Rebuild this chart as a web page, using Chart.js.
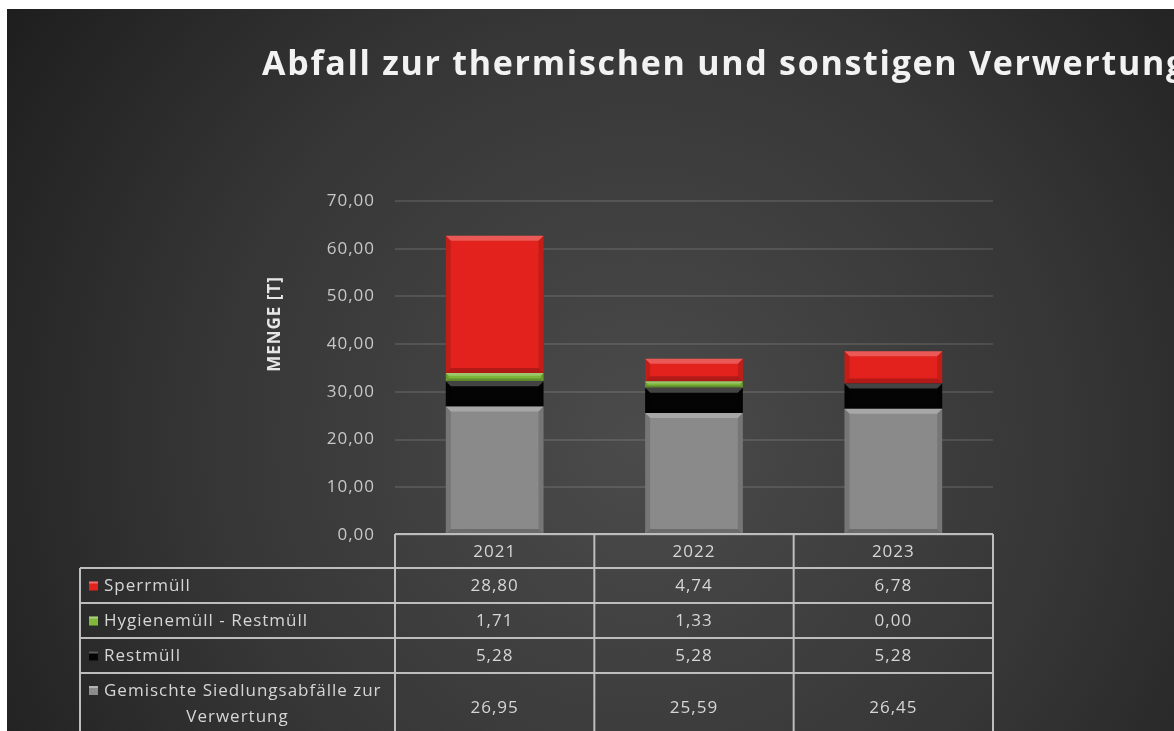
<!DOCTYPE html>
<html>
<head>
<meta charset="utf-8">
<script src="https://cdn.jsdelivr.net/npm/chart.js@4.4.1/dist/chart.umd.min.js"></script>
<style>
  html, body { margin: 0; padding: 0; background: #fff; }
  canvas { display: block; }
</style>
</head>
<body>
<canvas id="grafico" width="1174" height="731"></canvas>
<script>
// Daten (Tonnen)
const jahre = ['2021', '2022', '2023'];
const sperrmuell = [28.80, 4.74, 6.78];
const hygienemuell = [1.71, 1.33, 0.00];
const restmuell = [5.28, 5.28, 5.28];
const gemischte = [26.95, 25.59, 26.45];
const yTicks = [0, 10, 20, 30, 40, 50, 60, 70];

const titelText = 'Abfall zur thermischen und sonstigen Verwertung';
const achsenTitel = 'MENGE [T]';

const fmt = v => v.toFixed(2).replace('.', ',');

// Reihenfolge in der Tabelle (oben -> unten)
const tabellenZeilen = [
    { name: 'Sperrmüll', werte: sperrmuell, farbe: '#e3221d' },
    { name: 'Hygienemüll - Restmüll', werte: hygienemuell, farbe: '#7fb83a' },
    { name: 'Restmüll', werte: restmuell, farbe: '#050505' },
    { name: ['Gemischte Siedlungsabfälle zur', 'Verwertung'], werte: gemischte, farbe: '#8c8c8c' }
];

const hintergrund = {
    id: 'hintergrund',
    beforeDraw(chart) {
        const ctx = chart.ctx;
        ctx.fillStyle = '#ffffff';
        ctx.fillRect(0, 0, chart.width, chart.height);
        const g = ctx.createRadialGradient(640, 440, 0, 640, 440, 780);
        g.addColorStop(0, '#4b4b4b');
        g.addColorStop(0.55, '#363636');
        g.addColorStop(1, '#1d1d1d');
        ctx.fillStyle = g;
        ctx.fillRect(7, 9, chart.width - 7, chart.height - 9);
        // etwas Buchstabenabstand wie im Original
        ctx.letterSpacing = '1px';
    }
};

const glanz = {
    id: 'glanz',
    afterDatasetsDraw(chart) {
        const ctx = chart.ctx;
        ctx.save();
        chart.data.datasets.forEach((ds, di) => {
            chart.getDatasetMeta(di).data.forEach(bar => {
                const h = bar.base - bar.y;
                if (h < 1) return;
                const l = bar.x - bar.width / 2, r = bar.x + bar.width / 2;
                const k = Math.min(5, h / 3);
                // helle Oberkante
                ctx.fillStyle = 'rgba(255,255,255,0.25)';
                ctx.beginPath();
                ctx.moveTo(l, bar.y); ctx.lineTo(r, bar.y);
                ctx.lineTo(r - k, bar.y + k); ctx.lineTo(l + k, bar.y + k);
                ctx.closePath(); ctx.fill();
                // dunkle Seiten
                ctx.fillStyle = 'rgba(0,0,0,0.14)';
                ctx.beginPath();
                ctx.moveTo(l, bar.y); ctx.lineTo(l + k, bar.y + k);
                ctx.lineTo(l + k, bar.base - k); ctx.lineTo(l, bar.base);
                ctx.closePath(); ctx.fill();
                ctx.beginPath();
                ctx.moveTo(r, bar.y); ctx.lineTo(r - k, bar.y + k);
                ctx.lineTo(r - k, bar.base - k); ctx.lineTo(r, bar.base);
                ctx.closePath(); ctx.fill();
                ctx.fillStyle = 'rgba(0,0,0,0.22)';
                ctx.beginPath();
                ctx.moveTo(l, bar.base); ctx.lineTo(r, bar.base);
                ctx.lineTo(r - k, bar.base - k); ctx.lineTo(l + k, bar.base - k);
                ctx.closePath(); ctx.fill();
            });
        });
        ctx.restore();
    }
};

const tabelle = {
    id: 'tabelle',
    afterDraw(chart) {
        const ctx = chart.ctx;
        const x = chart.scales.x;
        const halb = (x.getPixelForValue(1) - x.getPixelForValue(0)) / 2;
        const mitten = jahre.map((j, i) => x.getPixelForValue(i));
        const tLinks = mitten[0] - halb;
        const tRechts = mitten[mitten.length - 1] + halb;
        const labelLinks = 80;
        const kopfOben = chart.chartArea.bottom - 1;
        const kanten = [kopfOben, kopfOben + 34, kopfOben + 69, kopfOben + 104, kopfOben + 139, kopfOben + 215];

        ctx.save();
        ctx.letterSpacing = '1px';
        ctx.strokeStyle = '#bdbdbd';
        ctx.lineWidth = 2;
        ctx.beginPath();
        // Kopfzeile
        ctx.moveTo(tLinks, kanten[0]); ctx.lineTo(tRechts, kanten[0]);
        for (let i = 1; i < kanten.length - 1; i++) {
            ctx.moveTo(labelLinks, kanten[i]); ctx.lineTo(tRechts, kanten[i]);
        }
        for (let i = 0; i <= jahre.length; i++) {
            const xx = tLinks + i * halb * 2;
            ctx.moveTo(xx, kanten[0]); ctx.lineTo(xx, kanten[kanten.length - 1]);
        }
        ctx.moveTo(labelLinks, kanten[1]); ctx.lineTo(labelLinks, kanten[kanten.length - 1]);
        ctx.stroke();

        ctx.fillStyle = '#d6d6d6';
        ctx.font = '17px "Open Sans"';
        ctx.textAlign = 'center';
        ctx.textBaseline = 'middle';
        jahre.forEach((j, i) => ctx.fillText(j, mitten[i], (kanten[0] + kanten[1]) / 2 + 1));

        tabellenZeilen.forEach((zeile, r) => {
            const oben = kanten[r + 1];
            const unten = r === tabellenZeilen.length - 1 ? oben + 68 : kanten[r + 2];
            const ym = (oben + unten) / 2 + 1;
            ctx.fillStyle = '#d6d6d6';
            ctx.textAlign = 'center';
            zeile.werte.forEach((v, i) => ctx.fillText(fmt(v), mitten[i], ym));

            const ersteZeile = Array.isArray(zeile.name) ? oben + 18 : ym;
            // Farbkästchen
            ctx.fillStyle = zeile.farbe;
            ctx.fillRect(89, ersteZeile - 5, 9, 9);
            ctx.fillStyle = 'rgba(255,255,255,0.35)';
            ctx.fillRect(89, ersteZeile - 5, 9, 2);

            ctx.fillStyle = '#d6d6d6';
            if (Array.isArray(zeile.name)) {
                ctx.textAlign = 'left';
                ctx.fillText(zeile.name[0], 104, ersteZeile);
                ctx.textAlign = 'center';
                ctx.fillText(zeile.name[1], (labelLinks + tLinks) / 2, ersteZeile + 26);
            } else {
                ctx.textAlign = 'left';
                ctx.fillText(zeile.name, 104, ym);
            }
        });

        // Titel
        ctx.fillStyle = '#f2f2f2';
        ctx.font = 'bold 34px "Open Sans"';
        ctx.textAlign = 'left';
        ctx.textBaseline = 'alphabetic';
        ctx.letterSpacing = '0px';
        const breite = ctx.measureText(titelText).width;
        ctx.letterSpacing = ((925 - breite) / titelText.length).toFixed(2) + 'px';
        ctx.fillText(titelText, 262, 75);

        // Achsentitel
        ctx.letterSpacing = '1px';
        ctx.font = 'bold 17px "Open Sans"';
        ctx.fillStyle = '#e6e6e6';
        ctx.translate(275, 324);
        ctx.rotate(-Math.PI / 2);
        ctx.textAlign = 'center';
        ctx.textBaseline = 'middle';
        ctx.fillText(achsenTitel, 0, 0);
        ctx.restore();
    }
};

const ctx = document.getElementById('grafico').getContext('2d');

new Chart(ctx, {
    type: 'bar',
    data: {
        labels: jahre,
        datasets: [
            { label: 'Gemischte Siedlungsabfälle zur Verwertung', data: gemischte, backgroundColor: '#8a8a8a' },
            { label: 'Restmüll', data: restmuell, backgroundColor: '#040404' },
            { label: 'Hygienemüll - Restmüll', data: hygienemuell, backgroundColor: '#7db43a' },
            { label: 'Sperrmüll', data: sperrmuell, backgroundColor: '#e3221d' }
        ]
    },
    options: {
        responsive: false,
        animation: false,
        layout: { padding: { left: 0, top: 201, right: 181, bottom: 196 } },
        datasets: { bar: { categoryPercentage: 1, barPercentage: 0.49, borderWidth: 0 } },
        plugins: {
            legend: { display: false },
            title: { display: false },
            tooltip: { enabled: false }
        },
        scales: {
            x: { stacked: true, display: false },
            y: {
                stacked: true,
                min: 0,
                max: 70,
                afterBuildTicks: s => { s.ticks = yTicks.map(v => ({ value: v })); },
                afterFit: s => { s.width = 395; },
                ticks: {
                    callback: v => fmt(v),
                    color: '#c8c8c8',
                    font: { family: 'Open Sans', size: 17 },
                    padding: 20
                },
                grid: { color: 'rgba(255,255,255,0.11)', lineWidth: 2, drawTicks: false },
                border: { display: false }
            }
        }
    },
    plugins: [hintergrund, glanz, tabelle]
});
</script>
</body>
</html>
